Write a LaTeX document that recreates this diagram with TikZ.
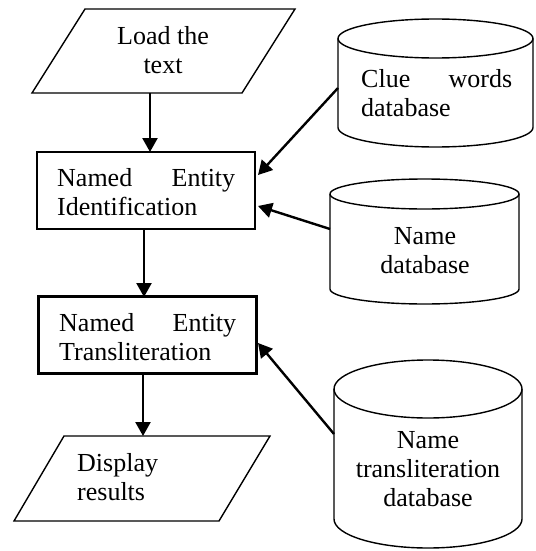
\documentclass[tikz,border=0pt]{standalone}
\usepackage{fontspec}
\setmainfont{Liberation Serif}
\usetikzlibrary{arrows.meta}
\begin{document}
\begin{tikzpicture}[x=1pt,y=-1pt,
  thin line/.style={line width=1.4pt},
  boxnode/.style={draw,line width=2.4pt,minimum width=218pt,minimum height=77pt,inner sep=0pt},
  txt/.style={inner sep=0pt,font=\fontsize{26}{29}\selectfont},
  arr/.style={line width=2.4pt,-{Triangle[length=14pt,width=15pt]}}]
\useasboundingbox (0,0) rectangle (535,551);
% input parallelogram
\draw[thin line] (85,9) -- (295,9) -- (242,93) -- (32,93) -- cycle;
\node[txt,align=center] (load) at (163,50) {Load the\\text};
% boxes
\node[boxnode] (nei) at (146,190.5) {};
\node[txt,align=left,anchor=west] (neit) at (57,192) {\hbox to 178pt{Named\hfill Entity}\\Identification};
\node[boxnode] (net) at (147.5,335) {};
\node[txt,align=left,anchor=west] (nett) at (59,337) {\hbox to 177pt{Named\hfill Entity}\\Transliteration};
% output parallelogram
\draw[thin line] (64,436) -- (270,436) -- (219,521) -- (14,521) -- cycle;
\node[txt,align=left,anchor=west] (disp) at (77,477) {Display\\results};
% cylinders
\newcommand{\mycyl}[5]{% cx, top centre y, bottom centre y, rx, ry
  \draw[thin line] (#1,#2) ellipse [x radius=#4,y radius=#5];
  \draw[thin line] ({#1-#4},#2) -- ({#1-#4},#3) arc[start angle=180,end angle=360,x radius=#4,y radius=-#5] -- ({#1+#4},#2);
}
\mycyl{435.5}{38.5}{127.5}{97.5}{19.5}
\node[txt,align=left,anchor=west] (clue) at (361,93) {\hbox to 151pt{Clue\hfill words}\\database};
\mycyl{424.5}{194}{289}{94.5}{15}
\node[txt,align=center] (name) at (425,251) {Name\\database};
\mycyl{428}{389}{519}{94}{29}
\node[txt,align=center] (tran) at (428,469) {Name\\transliteration\\database};
% connector endpoints
\coordinate (a1s) at (150,93);
\coordinate (a1e) at (150,152);
\coordinate (a2s) at (144,229);
\coordinate (a2e) at (144,297);
\coordinate (a3s) at (143,373);
\coordinate (a3e) at (143,436);
\coordinate (c1s) at (338,88);
\coordinate (c1e) at (258,175);
\coordinate (c2s) at (330,229);
\coordinate (c2e) at (258,206);
\coordinate (c3s) at (334,434);
\coordinate (c3e) at (258,343);
\draw[arr] (a1s) -- (a1e);
\draw[arr] (a2s) -- (a2e);
\draw[arr] (a3s) -- (a3e);
\draw[arr] (c1s) -- (c1e);
\draw[arr] (c2s) -- (c2e);
\draw[arr] (c3s) -- (c3e);
\end{tikzpicture}
\end{document}
